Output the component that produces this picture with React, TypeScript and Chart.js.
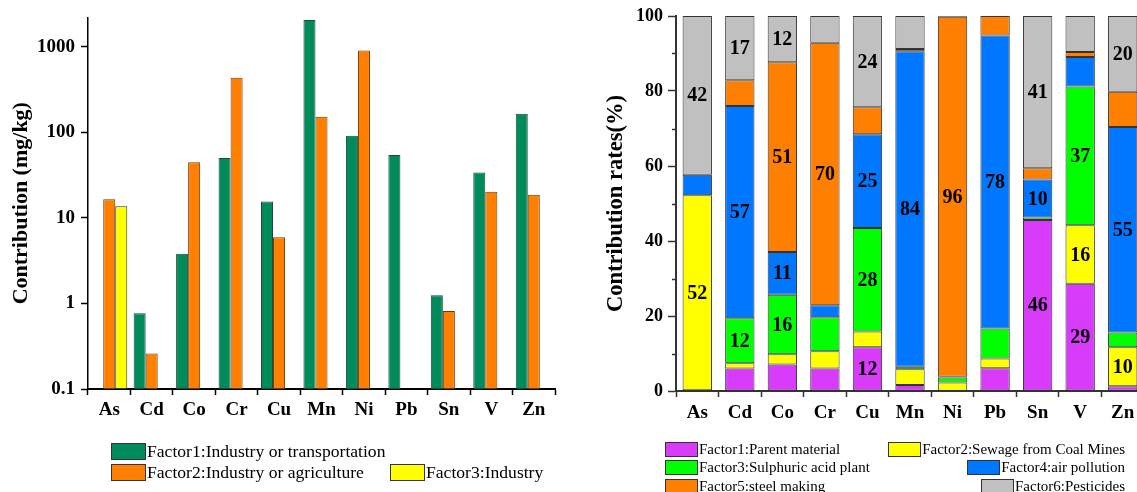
import React, { useEffect, useRef } from 'react';
import { Chart, registerables } from 'chart.js';

Chart.register(...registerables);

// ---------- data ----------
const elements = ['As', 'Cd', 'Co', 'Cr', 'Cu', 'Mn', 'Ni', 'Pb', 'Sn', 'V', 'Zn'];

// left chart: contribution (mg/kg), log scale
const contribIndustryTransport = [null, 0.766, 3.81, 50.3, 15.6, 2061, 91.5, 54.5, 1.25, 34.0, 165];
const contribIndustryAgri = [16.5, 0.26, 44.8, 436, 5.96, 152, 906, null, 0.815, 20.2, 18.7];
const contribIndustry = [13.7, null, null, null, null, null, null, null, null, null, null];
const logTickValues = [0.1, 1, 10, 100, 1000];

// right chart: contribution rates (%)
const rateParent = [0.2, 6.0, 7.1, 6.0, 11.7, 1.6, 0.1, 6.1, 45.6, 28.6, 1.3];
const rateSewage = [52.0, 1.4, 2.7, 4.6, 4.2, 4.2, 2.2, 2.6, 0, 15.6, 10.4];
const rateSulphuric = [0, 12.0, 15.9, 9.1, 27.6, 0.7, 1.3, 8.0, 0.7, 37.0, 3.9];
const rateAir = [5.5, 56.6, 11.4, 3.2, 25.0, 84.1, 0.2, 78.1, 10.1, 7.9, 54.8];
const rateSteel = [0, 6.9, 50.6, 70.0, 7.2, 0.6, 96.0, 5.2, 3.0, 1.3, 9.4];
const ratePesticides = [42.3, 17.1, 12.3, 7.1, 24.3, 8.8, 0.2, 0, 40.6, 9.6, 20.2];
const rateMajorTicks = [0, 20, 40, 60, 80, 100];
const rateMinorTicks = [10, 30, 50, 70, 90];

const leftLegend = [
  { label: 'Factor1:Industry or transportation', color: '#008C5A' },
  { label: 'Factor2:Industry or agriculture', color: '#FF8000' },
  { label: 'Factor3:Industry', color: '#FFFF00' },
];
const rightLegend = [
  { label: 'Factor1:Parent material', color: '#D93BFA' },
  { label: 'Factor2:Sewage from Coal Mines', color: '#FFFF00' },
  { label: 'Factor3:Sulphuric acid plant', color: '#00FF00' },
  { label: 'Factor4:air pollution', color: '#0077FF' },
  { label: 'Factor5:steel making', color: '#FF8000' },
  { label: 'Factor6:Pesticides', color: '#C0C0C0' },
];

const SERIF = "'Times New Roman', 'Liberation Serif', Times, serif";

const segmentLabels = {
  id: 'segmentLabels',
  afterDatasetsDraw(chart: any) {
    const ctx = chart.ctx;
    ctx.save();
    ctx.font = `bold 20px ${SERIF}`;
    ctx.fillStyle = '#000';
    ctx.textAlign = 'center';
    ctx.textBaseline = 'middle';
    chart.data.datasets.forEach((ds: any, i: number) => {
      const meta = chart.getDatasetMeta(i);
      meta.data.forEach((el: any, j: number) => {
        const v = ds.data[j];
        if (v != null && v >= 10) {
          ctx.fillText(String(Math.round(v)), el.x, (el.y + el.base) / 2 + 1);
        }
      });
    });
    ctx.restore();
  },
};

const minorTicks = {
  id: 'minorTicks',
  afterDraw(chart: any) {
    const y = chart.scales.y;
    const ctx = chart.ctx;
    ctx.save();
    ctx.strokeStyle = '#333';
    ctx.lineWidth = 1.5;
    rateMinorTicks.forEach((v) => {
      const py = Math.round(y.getPixelForValue(v)) + 0.5;
      ctx.beginPath();
      ctx.moveTo(y.right - 4, py);
      ctx.lineTo(y.right, py);
      ctx.stroke();
    });
    ctx.restore();
  },
};

function LeftChart() {
  const ref = useRef<HTMLCanvasElement>(null);
  useEffect(() => {
    const chart = new Chart(ref.current!, {
      type: 'bar',
      data: {
        labels: elements,
        datasets: [
          { label: leftLegend[0].label, data: contribIndustryTransport, backgroundColor: leftLegend[0].color, borderColor: '#1d4a38', borderWidth: 1, borderSkipped: false },
          { label: leftLegend[1].label, data: contribIndustryAgri, backgroundColor: leftLegend[1].color, borderColor: '#6e3c0c', borderWidth: 1, borderSkipped: false },
          { label: leftLegend[2].label, data: contribIndustry, backgroundColor: leftLegend[2].color, borderColor: '#333', borderWidth: 1, borderSkipped: false },
        ] as any,
      },
      options: {
        animation: false,
        responsive: false,
        devicePixelRatio: 1,
        layout: { padding: { top: 14, right: 25, left: 0, bottom: 0 } },
        datasets: { bar: { categoryPercentage: 0.85, barPercentage: 1 } } as any,
        plugins: { legend: { display: false }, tooltip: { enabled: false } },
        scales: {
          x: {
            grid: { display: true, drawOnChartArea: false, drawTicks: true, tickLength: 6, tickColor: '#000', tickWidth: 1.5 },
            border: { display: true, color: '#000', width: 2 },
            ticks: { color: '#000', font: { family: SERIF, size: 19, weight: 'bold' }, padding: 4, maxRotation: 0, autoSkip: false },
            afterFit: (s: any) => { s.height = 103; },
          },
          y: {
            type: 'logarithmic',
            min: 0.1,
            max: 2210,
            grid: { display: true, drawOnChartArea: false, drawTicks: true, tickLength: 7, tickColor: '#000', tickWidth: 1.5 },
            border: { display: true, color: '#000', width: 1.5 },
            afterBuildTicks: (s: any) => { s.ticks = logTickValues.map((v) => ({ value: v })); },
            ticks: { color: '#000', font: { family: SERIF, size: 19, weight: 'bold' }, padding: 6, callback: (v: any) => String(v) },
            title: { display: true, text: 'Contribution (mg/kg)', color: '#000', font: { family: SERIF, size: 22, weight: 'bold' }, padding: { top: 8, bottom: 0 } },
            afterFit: (s: any) => { s.width = 88; },
          },
        },
      } as any,
    });
    return () => chart.destroy();
  }, []);
  return <canvas ref={ref} width={580} height={492} style={{ position: 'absolute', left: 0, top: 0, width: 580, height: 492 }} />;
}

function RightChart() {
  const ref = useRef<HTMLCanvasElement>(null);
  useEffect(() => {
    const series = [rateParent, rateSewage, rateSulphuric, rateAir, rateSteel, ratePesticides];
    const chart = new Chart(ref.current!, {
      type: 'bar',
      data: {
        labels: elements,
        datasets: series.map((d, i) => ({
          label: rightLegend[i].label,
          data: d,
          backgroundColor: rightLegend[i].color,
          borderColor: '#333',
          borderWidth: 1,
          borderSkipped: false,
        })),
      },
      options: {
        animation: false,
        responsive: false,
        devicePixelRatio: 1,
        layout: { padding: { top: 16, right: 6, left: 0, bottom: 0 } },
        datasets: { bar: { categoryPercentage: 1, barPercentage: 0.69 } } as any,
        plugins: { legend: { display: false }, tooltip: { enabled: false } },
        scales: {
          x: {
            stacked: true,
            grid: { display: true, drawOnChartArea: false, drawTicks: true, tickLength: 6, tickColor: '#333', tickWidth: 1.5 },
            border: { display: true, color: '#333', width: 2 },
            ticks: { color: '#000', font: { family: SERIF, size: 19, weight: 'bold' }, padding: 5, maxRotation: 0, autoSkip: false },
            afterFit: (s: any) => { s.height = 101; },
          },
          y: {
            stacked: true,
            min: 0,
            max: 100,
            grid: { display: true, drawOnChartArea: false, drawTicks: true, tickLength: 8, tickColor: '#333', tickWidth: 1.5 },
            border: { display: true, color: '#333', width: 2 },
            afterBuildTicks: (s: any) => { s.ticks = rateMajorTicks.map((v) => ({ value: v })); },
            ticks: { color: '#000', font: { family: SERIF, size: 18, weight: 'bold' }, padding: 5 },
            title: { display: true, text: 'Contribution rates(%)', color: '#000', font: { family: SERIF, size: 22.5, weight: 'bold' }, padding: { top: 23, bottom: 0 } },
            afterFit: (s: any) => { s.width = 96; },
          },
        },
      } as any,
      plugins: [segmentLabels, minorTicks],
    });
    return () => chart.destroy();
  }, []);
  return <canvas ref={ref} width={570} height={492} style={{ position: 'absolute', left: 580, top: 0, width: 570, height: 492 }} />;
}

function LegendItem({ label, color, boxW, boxH, fontSize, style }: any) {
  return (
    <div style={{ position: 'absolute', display: 'flex', alignItems: 'center', whiteSpace: 'nowrap', fontFamily: SERIF, fontSize, color: '#000', lineHeight: 1, ...style }}>
      <span style={{ display: 'inline-block', width: boxW, height: boxH, boxSizing: 'border-box', background: color, border: '1px solid #333', marginRight: 1, flexShrink: 0 }} />
      <span>{label}</span>
    </div>
  );
}

export default function App() {
  return (
    <div style={{ position: 'fixed', left: 0, top: 0, width: 1137, height: 492, overflow: 'hidden', background: '#fff' }}>
      <LeftChart />
      <RightChart />
      {/* left legend */}
      <LegendItem {...leftLegend[0]} boxW={35} boxH={17} fontSize={17.6} style={{ left: 111, top: 442, height: 19 }} />
      <LegendItem {...leftLegend[1]} boxW={35} boxH={17} fontSize={17.6} style={{ left: 111, top: 463, height: 19 }} />
      <LegendItem {...leftLegend[2]} boxW={35} boxH={17} fontSize={17.6} style={{ left: 390, top: 463, height: 19 }} />
      {/* right legend */}
      <LegendItem {...rightLegend[0]} boxW={33} boxH={15} fontSize={15} style={{ left: 665, top: 441, height: 16 }} />
      <LegendItem {...rightLegend[1]} boxW={33} boxH={15} fontSize={15} style={{ right: 12, top: 441, height: 16 }} />
      <LegendItem {...rightLegend[2]} boxW={33} boxH={15} fontSize={15} style={{ left: 665, top: 459, height: 16 }} />
      <LegendItem {...rightLegend[3]} boxW={33} boxH={15} fontSize={15} style={{ right: 12, top: 459, height: 16 }} />
      <LegendItem {...rightLegend[4]} boxW={33} boxH={15} fontSize={15} style={{ left: 665, top: 478, height: 16 }} />
      <LegendItem {...rightLegend[5]} boxW={33} boxH={15} fontSize={15} style={{ right: 12, top: 478, height: 16 }} />
    </div>
  );
}
